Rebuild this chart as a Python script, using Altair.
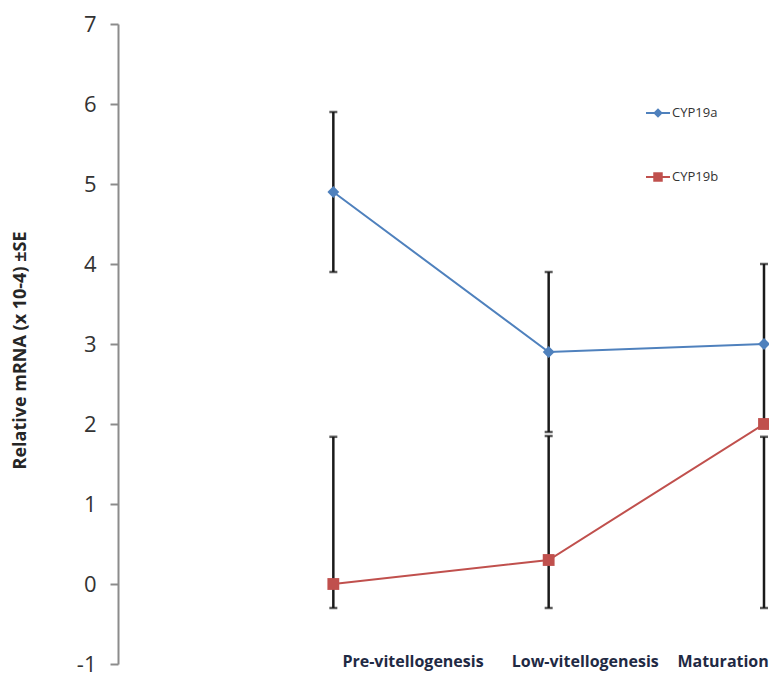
import altair as alt
import pandas as pd

stages = ["Pre-vitellogenesis", "Low-vitellogenesis", "Maturation"]
stage_pos = [1, 2, 3]
series_names = ["CYP19a", "CYP19b"]
cyp19a = [4.9, 2.9, 3.0]
cyp19a_lo = [3.9, 1.9, 2.0]
cyp19a_hi = [5.9, 3.9, 4.0]
cyp19b = [0.0, 0.3, 2.0]
cyp19b_lo = [-0.3, -0.3, -0.3]
cyp19b_hi = [1.84, 1.85, 1.84]
label_pos = [1.37, 2.17, 2.81]
colors = ["#4F81BD", "#C0504D"]
shapes = ["diamond", "square"]

rows = []
for name, vals, lo, hi in [("CYP19a", cyp19a, cyp19a_lo, cyp19a_hi),
                           ("CYP19b", cyp19b, cyp19b_lo, cyp19b_hi)]:
    for s, p, v, l, h in zip(stages, stage_pos, vals, lo, hi):
        rows.append({"series": name, "stage": s, "pos": p, "value": v, "lo": l, "hi": h})
df = pd.DataFrame(rows)
labels_df = pd.DataFrame({"stage": stages, "lpos": label_pos, "y": [-1] * 3})

xs = alt.Scale(domain=[0, 3], nice=False, zero=False)
ys = alt.Scale(domain=[-1, 7], nice=False, zero=False)
cs = alt.Scale(domain=series_names, range=colors)
ss = alt.Scale(domain=series_names, range=shapes)

base = alt.Chart(df)

err = base.mark_rule(color="#1a1a1a", strokeWidth=2.5).encode(
    x=alt.X("pos:Q", scale=xs, axis=None),
    y=alt.Y("lo:Q", scale=ys, axis=alt.Axis(
        title="Relative mRNA (x 10-4) ±SE", values=list(range(-1, 8)),
        labelExpr="datum.value < 0 ? '-' + abs(datum.value) : '' + datum.value",
        grid=False, domainColor="#8c8c8c", domainWidth=2, tickColor="#8c8c8c",
        tickWidth=2, tickSize=8, labelFont="Open Sans", labelFontSize=22,
        labelColor="#333333", labelPadding=14, titleFont="Open Sans",
        titleFontSize=18, titleFontWeight="bold", titleColor="#262626",
        titleX=-98, titleY=326, titleAngle=-90, titleAlign="center",
        titleBaseline="middle")),
    y2="hi:Q",
)
cap_lo = base.mark_tick(orient="horizontal", color="#1a1a1a", size=8, thickness=2.5).encode(
    x=alt.X("pos:Q", scale=xs), y=alt.Y("lo:Q", scale=ys))
cap_hi = base.mark_tick(orient="horizontal", color="#1a1a1a", size=8, thickness=2.5).encode(
    x=alt.X("pos:Q", scale=xs), y=alt.Y("hi:Q", scale=ys))

lines = base.mark_line(strokeWidth=2).encode(
    x=alt.X("pos:Q", scale=xs), y=alt.Y("value:Q", scale=ys),
    color=alt.Color("series:N", scale=cs, legend=None), detail="series:N")
pts = base.mark_point(filled=True, opacity=1, size=140).encode(
    x=alt.X("pos:Q", scale=xs), y=alt.Y("value:Q", scale=ys),
    color=alt.Color("series:N", scale=cs, legend=None),
    shape=alt.Shape("series:N", scale=ss, legend=None))

xlab = alt.Chart(labels_df).mark_text(
    font="Open Sans", fontSize=16, fontWeight="bold", color="#1f2a44",
    align="center", baseline="middle", dy=-2).encode(
    x=alt.X("lpos:Q", scale=xs), y=alt.Y("y:Q", scale=ys), text="stage:N")

leg_layers = []
for name, col, shp, ly in zip(series_names, colors, shapes, [89, 153]):
    d = alt.Chart(pd.DataFrame({"series": [name]}))
    leg_layers.append(d.mark_rule(color=col, strokeWidth=2).encode(
        x=alt.value(528), x2=alt.value(552), y=alt.value(ly)))
    leg_layers.append(d.mark_point(filled=True, opacity=1, size=90, color=col, shape=shp).encode(
        x=alt.value(540), y=alt.value(ly)))
    leg_layers.append(d.mark_text(font="Open Sans", fontSize=13, color="#333333",
                                  align="left", baseline="middle").encode(
        x=alt.value(554), y=alt.value(ly), text="series:N"))

chart = alt.layer(err, cap_lo, cap_hi, lines, pts, xlab, *leg_layers).properties(
    width=646, height=640,
    padding={"left": 110, "top": 16, "right": 5, "bottom": 12},
    autosize=alt.AutoSizeParams(type="none"),
).configure_view(stroke=None)

chart.save("out.html", embed_options={"renderer": "svg", "actions": False})
